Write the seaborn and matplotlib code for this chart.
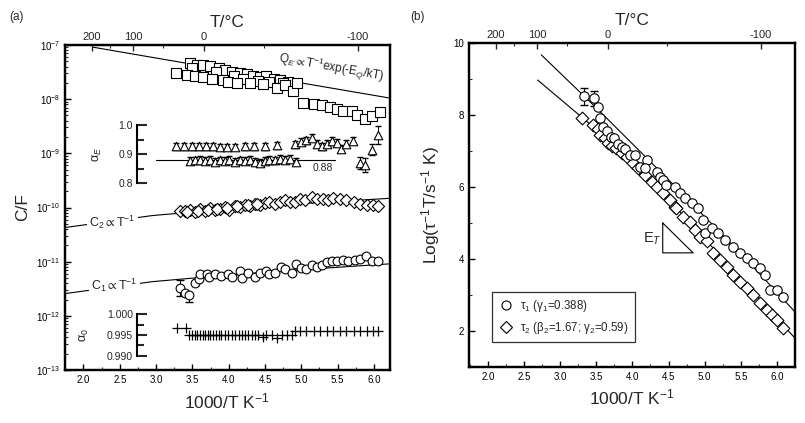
import numpy as np
import matplotlib
matplotlib.use("Agg")
import matplotlib.pyplot as plt
import seaborn as sns
from matplotlib.ticker import FixedLocator, NullFormatter, LogLocator, MultipleLocator
from matplotlib.lines import Line2D

# ---------------- data ----------------
# Panel (a): capacitances (log10 C/F) vs 1000/T
sq_x = [3.46, 3.56, 3.65, 3.74, 3.86, 3.95, 4.04, 4.16, 4.25, 4.34, 4.43, 4.52, 4.62, 4.71, 4.82,
        3.50, 3.83, 4.07, 4.20, 4.41, 4.56, 4.75,
        3.28, 3.42, 3.54, 3.65, 3.77, 3.92, 3.99, 4.11, 4.29, 4.47, 4.66, 4.78, 4.89, 4.94,
        5.02, 5.17, 5.28, 5.40, 5.49, 5.58, 5.70, 5.77, 5.88, 5.97, 6.08]
sq_logC = [-7.33, -7.36, -7.37, -7.39, -7.43, -7.47, -7.49, -7.51, -7.54, -7.57, -7.59, -7.57, -7.62, -7.64, -7.68,
           -7.42, -7.49, -7.57, -7.62, -7.66, -7.68, -7.71,
           -7.52, -7.56, -7.57, -7.59, -7.62, -7.64, -7.68, -7.71, -7.71, -7.72, -7.80, -7.74, -7.85, -7.71,
           -8.07, -8.08, -8.10, -8.14, -8.19, -8.22, -8.22, -8.30, -8.36, -8.31, -8.24]

dia_x = [3.33, 3.40, 3.46, 3.54, 3.61, 3.68, 3.74, 3.81, 3.88, 3.95, 4.01, 4.09, 4.16, 4.23, 4.29, 4.36,
         4.43, 4.50, 4.56, 4.64, 4.71, 4.78, 4.84, 4.91, 4.98, 5.05, 5.15, 5.21, 5.30, 5.37, 5.44, 5.53,
         5.62, 5.72, 5.81, 5.90, 5.99, 6.06,
         3.43, 3.58, 3.71, 3.84, 3.98, 4.12, 4.26, 4.39]
dia_logC = [-10.06, -10.07, -10.04, -10.09, -10.03, -10.06, -10.01, -10.04, -10.03, -9.99, -10.04, -9.98,
            -9.99, -9.96, -9.98, -9.93, -9.95, -9.91, -9.90, -9.93, -9.89, -9.87, -9.90, -9.89, -9.85,
            -9.87, -9.81, -9.85, -9.84, -9.87, -9.83, -9.85, -9.87, -9.89, -9.93, -9.95, -9.95, -9.98,
            -10.09, -10.06, -10.04, -10.02, -10.00, -9.97, -9.95, -9.93]

cir_x = [3.33, 3.40, 3.45, 3.54, 3.59, 3.60, 3.70, 3.73, 3.81, 3.90, 3.99, 4.04, 4.16, 4.18, 4.27, 4.36,
         4.43, 4.52, 4.56, 4.64, 4.72, 4.78, 4.87, 4.93, 5.00, 5.07, 5.15, 5.21, 5.28, 5.35, 5.42, 5.49,
         5.57, 5.64, 5.74, 5.81, 5.89, 5.97, 6.06]
cir_logC = [-11.48, -11.57, -11.62, -11.40, -11.32, -11.23, -11.22, -11.29, -11.23, -11.26, -11.23, -11.28,
            -11.17, -11.30, -11.20, -11.28, -11.20, -11.17, -11.23, -11.20, -11.09, -11.14, -11.20, -11.04,
            -11.12, -11.14, -11.07, -11.09, -11.06, -11.01, -10.99, -10.98, -10.97, -10.98, -10.97, -10.95,
            -10.89, -10.98, -10.98]

# fit lines, panel (a)
qe_line_x = [2.13, 4.17, 6.22]
qe_line_logC = [-7.04, -7.51, -7.98]
c_line_x = [1.745, 2.94, 3.96, 4.98, 6.22]
c2_line_logC = [-10.37, -10.15, -10.03, -9.93, -9.83]
c1_line_logC = [-11.59, -11.37, -11.25, -11.15, -11.04]

# alpha_E (triangles)
triU_x = [3.28, 3.38, 3.49, 3.59, 3.69, 3.78, 3.88, 3.97, 4.08, 4.23, 4.35, 4.50, 4.66, 4.91, 5.00, 5.07,
          5.15, 5.21, 5.28, 5.35, 5.42, 5.49, 5.55, 5.62, 5.71, 5.81, 5.88, 5.97, 6.06]
triU_a = [0.928, 0.928, 0.928, 0.928, 0.928, 0.928, 0.925, 0.925, 0.925, 0.928, 0.928, 0.928, 0.931,
          0.934, 0.943, 0.948, 0.957, 0.937, 0.928, 0.937, 0.946, 0.939, 0.919, 0.937, 0.946, 0.870,
          0.862, 0.916, 0.966]
triU_err = [0.012] * 25 + [0.02, 0.025, 0.02, 0.03]
triL_x = [3.46, 3.54, 3.61, 3.68, 3.74, 3.81, 3.88, 3.95, 4.01, 4.08, 4.16, 4.23, 4.29, 4.36, 4.43, 4.50,
          4.56, 4.64, 4.71, 4.78, 4.84, 4.93]
triL_a = [0.877, 0.879, 0.881, 0.877, 0.881, 0.874, 0.879, 0.877, 0.881, 0.874, 0.879, 0.877, 0.881,
          0.874, 0.870, 0.877, 0.881, 0.879, 0.885, 0.881, 0.885, 0.874]
alphaE_ref = 0.88
alphaE_ref_x = [3.00, 5.46]

# alpha_0 (pluses)
plus_x = [3.29, 3.41,
          3.45, 3.50, 3.54, 3.57, 3.61, 3.64, 3.68, 3.71, 3.74, 3.78, 3.82, 3.86, 3.90, 3.95, 3.99, 4.04,
          4.08, 4.14, 4.18, 4.23, 4.27, 4.32, 4.36, 4.41, 4.47, 4.52, 4.59, 4.66, 4.73, 4.80, 4.87,
          4.91, 4.98, 5.07, 5.17, 5.26, 5.35, 5.44, 5.53, 5.62, 5.72, 5.81, 5.90, 5.99, 6.06]
plus_a = [0.9968, 0.9968] + [0.9949] * 24 + [0.9945, 0.9949, 0.9949, 0.9944, 0.9949, 0.9949, 0.9949] + [0.9960] * 14

# Panel (b): log(tau^-1 T)
t1_x = [3.33, 3.47, 3.52, 3.55, 3.59, 3.65, 3.70, 3.74, 3.80, 3.86, 3.90, 3.97, 4.04, 4.10, 4.20, 4.17,
        4.34, 4.38, 4.43, 4.47, 4.59, 4.66, 4.73, 4.82, 4.91, 4.98, 5.00, 5.10, 5.19, 5.28, 5.39, 5.49,
        5.58, 5.67, 5.77, 5.84, 5.91, 6.00, 6.09]
t1_y = [8.52, 8.46, 8.23, 7.92, 7.68, 7.55, 7.40, 7.35, 7.20, 7.10, 7.05, 6.90, 6.88, 6.55, 6.75, 6.52,
        6.43, 6.29, 6.19, 6.05, 6.01, 5.83, 5.69, 5.55, 5.41, 5.08, 4.72, 4.85, 4.72, 4.53, 4.34, 4.16,
        4.02, 3.89, 3.75, 3.56, 3.14, 3.14, 2.95]
t2_x = [3.31, 3.46, 3.52, 3.55, 3.62, 3.66, 3.72, 3.78, 3.85, 3.92, 4.01, 4.08, 4.17, 4.27, 4.34, 4.43,
        4.52, 4.59, 4.61, 4.70, 4.80, 4.87, 4.94, 5.03, 5.12, 5.21, 5.31, 5.39, 5.49, 5.58, 5.67, 5.77,
        5.86, 5.93, 6.00, 6.09]
t2_y = [7.91, 7.72, 7.60, 7.44, 7.36, 7.22, 7.15, 7.08, 6.94, 6.84, 6.67, 6.52, 6.33, 6.15, 6.01, 5.83,
        5.64, 5.45, 5.41, 5.18, 5.04, 4.81, 4.62, 4.49, 4.16, 3.97, 3.79, 3.56, 3.37, 3.19, 3.00, 2.78,
        2.58, 2.44, 2.31, 2.08]
fit1_x = [2.74, 3.5, 4.5, 5.5, 6.25]
fit1_y = [9.67, 8.20, 6.20, 4.15, 2.53]
fit2_x = [2.69, 3.5, 4.5, 5.5, 6.25]
fit2_y = [8.97, 7.60, 5.66, 3.46, 1.80]

top_T_major = [200, 100, 0, -100]
top_T_minor = [150, 50, -50]

# ---------------- style ----------------
sns.set_theme(style="ticks")
plt.rcParams['font.family'] = ['Liberation Sans', 'DejaVu Sans']
plt.rcParams['mathtext.fontset'] = 'custom'
plt.rcParams['mathtext.rm'] = 'Liberation Sans'
plt.rcParams['mathtext.sf'] = 'Liberation Sans'
plt.rcParams['mathtext.it'] = 'Liberation Sans:italic'
plt.rcParams['mathtext.bf'] = 'Liberation Sans:bold'
plt.rcParams['mathtext.fallback'] = 'stixsans'
plt.rcParams['axes.linewidth'] = 1.6
plt.rcParams['axes.edgecolor'] = 'black'

fig = plt.figure(figsize=(8.05, 4.23), dpi=100)
ax = fig.add_axes([0.0807, 0.1253, 0.4037, 0.7683])
ax2 = fig.add_axes([0.5826, 0.1324, 0.405, 0.766])

TL = 7.0
LBL = 12.5
mk = dict(color='white', edgecolor='black', linewidth=0.8, zorder=3, legend=False)


def style_axis(a):
    a.tick_params(axis='both', which='major', direction='in', length=4, width=1.0,
                  labelsize=TL, top=False, right=False, colors='black')
    a.tick_params(axis='both', which='minor', direction='in', length=2.5, width=0.8,
                  top=False, right=False)
    for s in a.spines.values():
        s.set_linewidth(1.6)
        s.set_color('black')


def add_top(a):
    t = a.twiny()
    t.set_xlim(a.get_xlim())
    t.xaxis.set_major_locator(FixedLocator([1000.0 / (T + 273.15) for T in top_T_major]))
    t.set_xticklabels([f"{T:d}" for T in top_T_major])
    t.xaxis.set_minor_locator(FixedLocator([1000.0 / (T + 273.15) for T in top_T_minor]))
    t.tick_params(axis='x', which='major', direction='in', length=4, width=1.0, labelsize=8, pad=2)
    t.tick_params(axis='x', which='minor', direction='in', length=2.5, width=0.8)
    t.set_xlabel("T/\u00b0C", fontsize=LBL, labelpad=4)
    t.yaxis.label.set_visible(False)
    for s in t.spines.values():
        s.set_linewidth(1.6)
    return t


def clean_inset(a):
    a.xaxis.label.set_visible(False)
    a.yaxis.label.set_visible(False)
    a.xaxis.offsetText.set_visible(False)
    a.yaxis.offsetText.set_visible(False)


# ---------------- panel (a) ----------------
ax.set_yscale('log')
ax.set_xlim(1.745, 6.22)
ax.set_ylim(1e-13, 1e-7)

sns.lineplot(x=qe_line_x, y=10 ** np.array(qe_line_logC), sort=False, color='black', lw=0.8, ax=ax, zorder=2)
sns.lineplot(x=c_line_x, y=10 ** np.array(c2_line_logC), sort=False, color='black', lw=0.8, ax=ax, zorder=2)
sns.lineplot(x=c_line_x, y=10 ** np.array(c1_line_logC), sort=False, color='black', lw=0.8, ax=ax, zorder=2)

sns.scatterplot(x=sq_x, y=10 ** np.array(sq_logC), marker='s', s=42, ax=ax, **mk)
sns.scatterplot(x=dia_x, y=10 ** np.array(dia_logC), marker='D', s=38, ax=ax, **mk)
ax.errorbar([cir_x[0], cir_x[2]], [10 ** cir_logC[0], 10 ** cir_logC[2]],
            yerr=[[10 ** cir_logC[0] - 10 ** (cir_logC[0] - 0.15), 10 ** cir_logC[2] - 10 ** (cir_logC[2] - 0.13)],
                  [10 ** (cir_logC[0] + 0.15) - 10 ** cir_logC[0], 0]],
            fmt='none', ecolor='black', elinewidth=0.8, capsize=3, zorder=2)
sns.scatterplot(x=cir_x, y=10 ** np.array(cir_logC), marker='o', s=40, ax=ax, **mk)

ax.yaxis.set_major_locator(LogLocator(base=10, numticks=10))
ax.yaxis.set_minor_locator(LogLocator(base=10, subs=np.arange(2, 10), numticks=100))
ax.yaxis.set_minor_formatter(NullFormatter())
ax.xaxis.set_major_locator(MultipleLocator(0.5))
ax.xaxis.set_minor_locator(MultipleLocator(0.25))
ax.xaxis.set_major_formatter(plt.FuncFormatter(lambda v, p: f"{v:.1f}"))
style_axis(ax)
ax.set_xlabel("1000/T K$^{-1}$", fontsize=LBL, labelpad=5)
ax.set_ylabel("C/F", fontsize=LBL, labelpad=4)
add_top(ax)

ax.text(5.41, 10 ** -7.43, r"Q$_E\propto$T$^{-1}$exp(-E$_Q$/kT)", fontsize=8.5, rotation=-10,
        ha='center', va='center', zorder=4)
ax.text(2.40, 10 ** -10.28, r"C$_2\propto$T$^{-1}$", fontsize=9, ha='center', va='center', zorder=4,
        bbox=dict(facecolor='white', edgecolor='none', pad=1.5))
ax.text(2.43, 10 ** -11.43, r"C$_1\propto$T$^{-1}$", fontsize=9, ha='center', va='center', zorder=4,
        bbox=dict(facecolor='white', edgecolor='none', pad=1.5))

# inset alpha_E
aE = ax.inset_axes([0, 0.575, 1, 0.178])
aE.set_xlim(ax.get_xlim())
aE.set_ylim(0.8, 1.0)
aE.patch.set_alpha(0)
for k in ['top', 'right', 'bottom']:
    aE.spines[k].set_visible(False)
aE.spines['left'].set_position(('data', 2.74))
aE.spines['left'].set_linewidth(1.5)
aE.set_xticks([])
aE.yaxis.set_major_locator(FixedLocator([0.8, 0.9, 1.0]))
aE.yaxis.set_minor_locator(FixedLocator([0.85, 0.95]))
aE.set_yticklabels(["0.8", "0.9", "1.0"])
aE.tick_params(axis='y', which='major', direction='in', length=7, width=1.5, labelsize=7.5, pad=3)
aE.tick_params(axis='y', which='minor', direction='in', length=5, width=1.5)
aE.errorbar(triU_x, triU_a, yerr=triU_err, fmt='none', ecolor='black', elinewidth=0.7, capsize=2.5, zorder=2,
            clip_on=False)
aE.errorbar(triL_x, triL_a, yerr=0.012, fmt='none', ecolor='black', elinewidth=0.7, capsize=2.5, zorder=2,
            clip_on=False)
sns.lineplot(x=alphaE_ref_x, y=[alphaE_ref, alphaE_ref], color='black', lw=0.8, ax=aE, zorder=1)
sns.scatterplot(x=triU_x, y=triU_a, marker='^', s=38, ax=aE, clip_on=False, **mk)
sns.scatterplot(x=triL_x, y=triL_a, marker='^', s=38, ax=aE, clip_on=False, **mk)
clean_inset(aE)
aE.text(5.29, 0.852, f"{alphaE_ref:.2f}", fontsize=7.5, ha='center', va='center')
aE.text(2.19, 0.9, "\u03b1$_E$", fontsize=9, rotation=90, ha='center', va='center')

# inset alpha_0
a0 = ax.inset_axes([0, 0.044, 1, 0.127])
a0.set_xlim(ax.get_xlim())
a0.set_ylim(0.990, 1.000)
a0.patch.set_alpha(0)
for k in ['top', 'right', 'bottom']:
    a0.spines[k].set_visible(False)
a0.spines['left'].set_position(('data', 2.74))
a0.spines['left'].set_linewidth(1.5)
a0.set_xticks([])
a0.yaxis.set_major_locator(FixedLocator([0.990, 0.995, 1.000]))
a0.yaxis.set_minor_locator(FixedLocator([0.9925, 0.9975]))
a0.set_yticklabels(["0.990", "0.995", "1.000"])
a0.tick_params(axis='y', which='major', direction='in', length=7, width=1.5, labelsize=7.5, pad=3)
a0.tick_params(axis='y', which='minor', direction='in', length=5, width=1.5)
sns.scatterplot(x=plus_x, y=plus_a, marker='+', s=45, color='black', linewidth=0.9, ax=a0, legend=False,
                clip_on=False)
a0.errorbar([plus_x[26], plus_x[29]], [plus_a[26], plus_a[29]], yerr=[[0.0006, 0.0006], [0, 0]],
            fmt='none', ecolor='black', elinewidth=0.9, zorder=2)
clean_inset(a0)
a0.text(2.02, 0.995, "\u03b1$_0$", fontsize=9, rotation=90, ha='center', va='center')

fig.text(0.012, 0.953, "(a)", fontsize=8.5)

# ---------------- panel (b) ----------------
ax2.set_xlim(1.74, 6.25)
ax2.set_ylim(1, 10)
sns.lineplot(x=fit1_x, y=fit1_y, sort=False, color='black', lw=0.8, ax=ax2, zorder=2)
sns.lineplot(x=fit2_x, y=fit2_y, sort=False, color='black', lw=0.8, ax=ax2, zorder=2)
ax2.errorbar(t1_x[:2], t1_y[:2], yerr=[0.24, 0.2], fmt='none', ecolor='black', elinewidth=0.8, capsize=3,
             zorder=2)
sns.scatterplot(x=t2_x, y=t2_y, marker='D', s=42, ax=ax2, **mk)
sns.scatterplot(x=t1_x, y=t1_y, marker='o', s=46, ax=ax2, **mk)

ax2.yaxis.set_major_locator(MultipleLocator(2))
ax2.yaxis.set_minor_locator(MultipleLocator(1))
ax2.xaxis.set_major_locator(MultipleLocator(0.5))
ax2.xaxis.set_minor_locator(MultipleLocator(0.25))
ax2.xaxis.set_major_formatter(plt.FuncFormatter(lambda v, p: f"{v:.1f}"))
style_axis(ax2)
ax2.set_xlabel("1000/T K$^{-1}$", fontsize=LBL, labelpad=4)
ax2.set_ylabel("Log(\u03c4$^{-1}$T/s$^{-1}$ K)", fontsize=LBL, labelpad=8)
add_top(ax2)

# E_T slope triangle
ax2.plot([4.42, 4.42, 4.84, 4.42], [5.0, 4.17, 4.17, 5.0], color='black', lw=0.8)
ax2.text(4.27, 4.55, "E$_T$", fontsize=10.5, ha='center', va='center')

h1 = Line2D([], [], marker='o', ls='none', markerfacecolor='white', markeredgecolor='black', markersize=6.5,
            markeredgewidth=0.8)
h2 = Line2D([], [], marker='D', ls='none', markerfacecolor='white', markeredgecolor='black', markersize=6,
            markeredgewidth=0.8)
leg = ax2.legend([h1, h2], ["\u03c4$_1$ (\u03b3$_1$=0.388)", "\u03c4$_2$ (\u03b2$_2$=1.67; \u03b3$_2$=0.59)"],
                 loc='lower left', bbox_to_anchor=(0.07, 0.077), borderaxespad=0, fontsize=8.3,
                 frameon=True, fancybox=False, edgecolor='black', handletextpad=0.5, handlelength=1.4,
                 borderpad=0.55, labelspacing=0.5)
leg.get_frame().set_linewidth(0.9)

fig.text(0.510, 0.953, "(b)", fontsize=8.5)

fig.savefig("out.png", dpi=100)
